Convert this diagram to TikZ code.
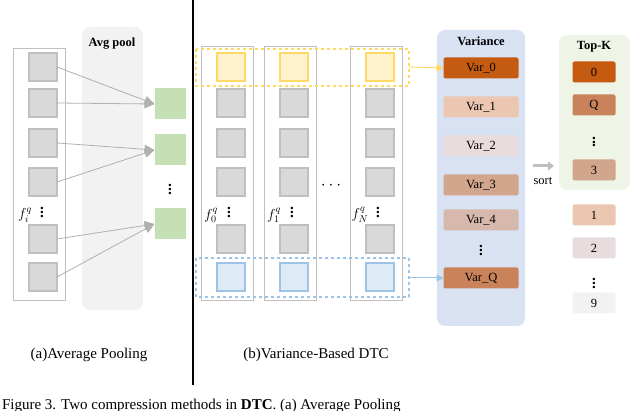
\documentclass[tikz,border=0pt]{standalone}
\usepackage{fontspec}
\setmainfont{Liberation Serif}
\usetikzlibrary{arrows.meta}
\definecolor{cellgray}{HTML}{D9D9D9}
\definecolor{cellline}{HTML}{BFBFBF}
\definecolor{arrowgray}{HTML}{B0B0B0}
\definecolor{poolbg}{HTML}{F2F2F2}
\definecolor{greencell}{HTML}{C5E0B4}
\definecolor{yelfill}{HTML}{FFF2CC}
\definecolor{yelline}{HTML}{FFD966}
\definecolor{bluefill}{HTML}{DEEBF7}
\definecolor{blueline}{HTML}{9DC3E6}
\definecolor{varbg}{HTML}{D9E2F3}
\definecolor{topbg}{HTML}{EEF4E6}
\definecolor{vA}{HTML}{C55A11}
\definecolor{vB}{HTML}{EBC6B0}
\definecolor{vC}{HTML}{E8DCDC}
\definecolor{vD}{HTML}{D2A68C}
\definecolor{vE}{HTML}{D6B8AC}
\definecolor{vQ}{HTML}{C9825A}
\definecolor{vN}{HTML}{F2F2F2}
\begin{document}
\begin{tikzpicture}[
        x=1pt, y=-1pt,
        every node/.style={inner sep=0pt, outer sep=0pt},
        col/.style={draw=cellline, line width=0.8pt},
        cell/.style={draw=cellline, fill=cellgray, line width=1.6pt, minimum size=28pt},
        ycell/.style={cell, draw=yelline, fill=yelfill},
        bcell/.style={cell, draw=blueline, fill=bluefill},
        gcell/.style={fill=greencell, minimum size=31pt},
        vbox/.style={rounded corners=2pt, minimum width=75pt, minimum height=21pt, font=\fontsize{12.5}{13}\selectfont},
        tbox/.style={rounded corners=2pt, minimum width=43pt, minimum height=21pt, font=\fontsize{12.5}{13}\selectfont},
        head/.style={font=\bfseries\fontsize{12.5}{13}\selectfont},
        vdots/.style={font=\bfseries\fontsize{15}{15}\selectfont},
        flab/.style={font=\fontsize{14}{14}\selectfont},
        gray_arrow/.style={draw=arrowgray, -{Triangle[length=10pt,width=9pt]}, line width=0.8pt},
        captext/.style={font=\fontsize{15}{16}\selectfont}
        ]
    \useasboundingbox (0,0) rectangle (640,411);
    % (a) average pooling
    \fill[poolbg, rounded corners=8pt] (82,27) rectangle (143,310);
    \node[head] (avg) at (112,44) {Avg pool};
    \draw[col] (13,48) rectangle (65,300);
    \foreach \n/\y in {1/67,2/103,3/143,4/182,5/239,6/277}
        \node[cell] (a\n) at (43,\y) {};
    \node[flab] (fi) at (25,215) {$f_i^q$};
    \node[vdots] (adots) at (42,209) {$\vdots$};
    \node[gcell] (g1) at (170,104) {};
    \node[gcell] (g2) at (170,150) {};
    \node[gcell] (g3) at (170,224) {};
    \node[vdots] (gdots) at (170,186) {$\vdots$};
    \foreach \s/\t in {1/1,2/1,3/2,4/2,5/3,6/3}
        \draw[gray_arrow] (a\s.east) -- (g\t.west);
    \draw[line width=1.3pt] (193,0) -- (193,385);
    % (b) variance based
    \foreach \c/\x/\lab in {0/227/{f_0^q},1/290/{f_1^q},N/376/{f_N^q}} {
        \draw[col] (\x-26,46) rectangle (\x+26,300);
        \node[ycell] (c\c-1) at (\x+4,67) {};
        \foreach \n/\y in {2/103,3/143,4/182,5/239}
            \node[cell] (c\c-\n) at (\x+4,\y) {};
        \node[bcell] (c\c-6) at (\x+4,277) {};
        \node[flab] (f\c) at (\x-16,215) {$\lab$};
        \node[vdots] (d\c) at (\x+2,209) {$\vdots$};
    }
    \node[font=\bfseries\fontsize{16}{16}\selectfont] (hdots) at (331,186) {$\cdots$};
    \draw[yelline, dashed, line width=1.2pt] (196,49) rectangle (409,86);
    \draw[blueline, dashed, line width=1.2pt] (196,258) rectangle (409,297);
    \coordinate (ytop) at (409,67);
    \coordinate (bbot) at (409,278);
    % variance
    \fill[varbg, rounded corners=8pt] (437,30) rectangle (525,326);
    \node[head] (var) at (481,41) {Variance};
    \node[vbox, fill=vA] (v0) at (481,68) {Var\_0};
    \node[vbox, fill=vB] (v1) at (481,107) {Var\_1};
    \node[vbox, fill=vC] (v2) at (481,146) {Var\_2};
    \node[vbox, fill=vD] (v3) at (481,185) {Var\_3};
    \node[vbox, fill=vE] (v4) at (481,220) {Var\_4};
    \node[vdots] (vd) at (481,247) {$\vdots$};
    \node[vbox, fill=vQ] (vq) at (481,278) {Var\_Q};
    \draw[yelline, -{Triangle[length=7pt,width=7pt]}, line width=1pt] (ytop) -- (v0.west);
    \draw[blueline, -{Triangle[length=7pt,width=7pt]}, line width=1pt] (bbot) -- (vq.west);
    % top-k
    \fill[topbg, rounded corners=8pt] (559,35) rectangle (630,190);
    \node[head] (topk) at (594,47) {Top-K};
    \node[tbox, fill=vA] (t0) at (594,72) {0};
    \node[tbox, fill=vQ] (tq) at (594,105) {Q};
    \node[vdots] (td) at (594,139) {$\vdots$};
    \node[tbox, fill=vD] (t3) at (594,170) {3};
    \node[tbox, fill=vB] (t1) at (594,215) {1};
    \node[tbox, fill=vC] (t2) at (594,248) {2};
    \node[vdots] (td2) at (594,280) {$\vdots$};
    \node[tbox, fill=vN] (t9) at (594,303) {9};
    \coordinate (s0) at (533,166);
    \coordinate (s1) at (554,166);
    \draw[cellline, line width=3pt, -{Triangle[length=6pt,width=9pt]}] (s0) -- (s1);
    \node[font=\fontsize{12.5}{13}\selectfont] (sort) at (543,181) {sort};
    % captions
    \node[captext] (capa) at (89,355) {(a)Average Pooling};
    \node[captext] (capb) at (316,355) {(b)Variance-Based DTC};
    \node[captext, anchor=west] (fig) at (2,406) {Figure 3. Two compression methods in \textbf{DTC}. (a) Average Pooling};
\end{tikzpicture}
\end{document}
